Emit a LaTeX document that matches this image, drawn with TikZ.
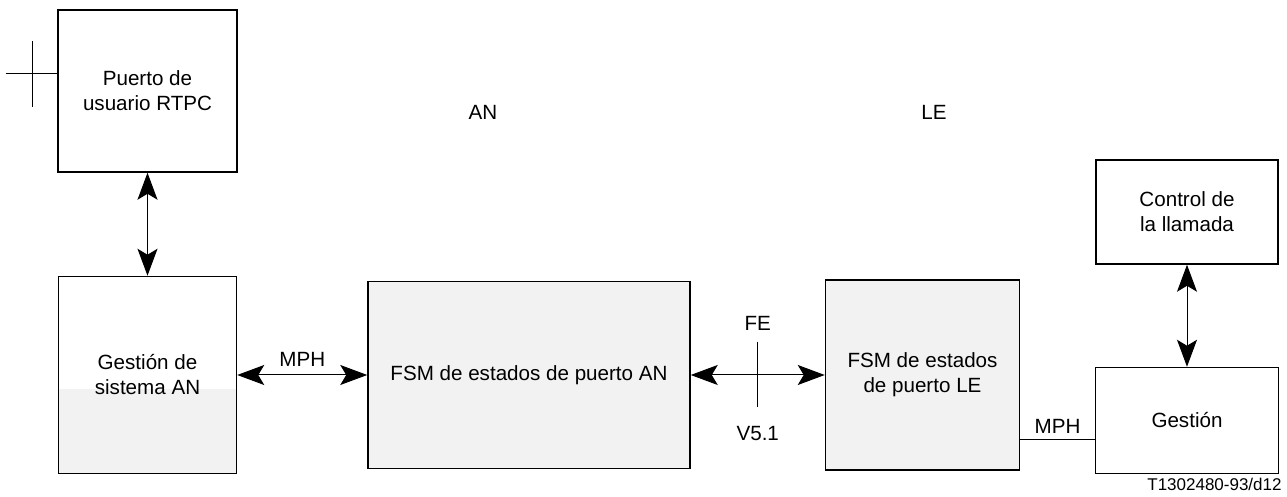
\documentclass[tikz,border=0pt]{standalone}
\usepackage{fontspec}
\setmainfont{Liberation Sans}
\usetikzlibrary{arrows.meta, positioning, calc, backgrounds}
\definecolor{fsmgray}{RGB}{242,242,242}
\tikzstyle{every block} = []
\tikzstyle{every flow} = []
\tikzstyle{block} = [rectangle, draw, black, line width=0.75pt, inner sep=0pt,
                      align=center, font=\fontsize{10.3}{12.5}\selectfont, every block]
\tikzstyle{fsm} = [block, fill=fsmgray]
\tikzstyle{flow} = [{Stealth[length=13.5pt,width=10pt,inset=3pt]}-{Stealth[length=13.5pt,width=10pt,inset=3pt]},
                      line width=0.5pt, every flow]
\tikzstyle{wire} = [line width=0.5pt]
\tikzstyle{lbl} = [inner sep=0pt, font=\fontsize{10.3}{12.5}\selectfont]

\begin{document}
\begin{tikzpicture}[x=0.5pt, y=-0.5pt]
  \useasboundingbox (0,0) rectangle (1287,497);
  %Nodes
  \node[block,minimum width=89.5pt,minimum height=81pt] (puerto) at (147.5,91) {Puerto de\\usuario RTPC};
  \node[block,minimum width=89pt,minimum height=98.5pt,below=51.5pt of puerto] (gestan) {Gestión de\\sistema AN};
  \node[fsm,minimum width=161pt,minimum height=93.5pt,right=65pt of gestan] (fsman) {FSM de estados de puerto AN};
  \node[fsm,minimum width=97pt,minimum height=95pt,right=67pt of fsman] (fsmle) {FSM de estados\\de puerto LE};
  \node[block,minimum width=91pt,minimum height=52pt] (control) at (1187,212) {Control de\\la llamada};
  \node[block,minimum width=91.5pt,minimum height=53pt,below=51pt of control] (gestion) {Gestión};

  % lower half of AN management is shaded
  \begin{scope}[on background layer]
    \fill[fsmgray] (gestan.south west) rectangle ([yshift=-7.25pt]gestan.east);
  \end{scope}

  \node[lbl] (an) at (483,112) {AN};
  \node[lbl] (le) at (934,112) {LE};

  %Lines
  \draw[flow] (puerto) -- (gestan);
  \draw[flow] (gestan) -- node[lbl,midway,above=4pt] (mphan) {MPH} (fsman);
  \draw[flow] (fsman) -- coordinate[midway] (ve) (fsmle);
  \draw[wire] ([yshift=16.5pt]ve) -- ([yshift=-16pt]ve);
  \node[lbl] (fe) at ([yshift=26pt]ve) {FE};
  \node[lbl] (vfive) at ([yshift=-29.5pt]ve) {V5.1};
  \draw[flow] (control) -- (gestion);

  % user port tap
  \coordinate (tap) at ([yshift=8.5pt]puerto.west);
  \draw[wire] (tap) -- ++(-25.5pt,0);
  \draw[wire] ([xshift=-12.5pt,yshift=16.5pt]tap) -- ([xshift=-12.5pt,yshift=-16.5pt]tap);

  % management link
  \coordinate (mphend) at ([yshift=-9.5pt]gestion.west);
  \draw[wire] (mphend -| fsmle.east) -- node[lbl,midway,above=2.5pt] (mphle) {MPH} (mphend);

  \node[lbl,anchor=east,font=\fontsize{8.5}{10}\selectfont] (ref) at (1282,484) {T1302480-93/d12};
\end{tikzpicture}
\end{document}
